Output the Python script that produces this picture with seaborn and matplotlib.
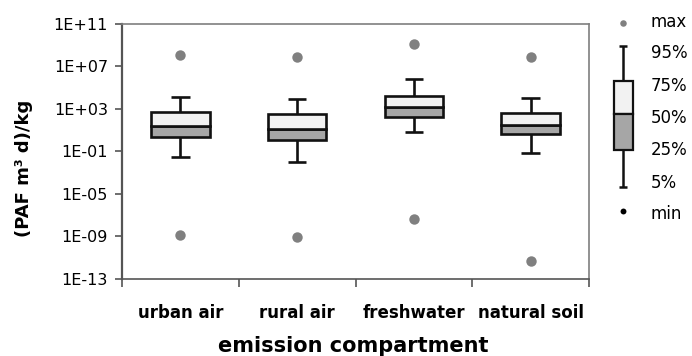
import math

import matplotlib
matplotlib.use("Agg")
import matplotlib.pyplot as plt
import matplotlib.ticker as mticker
import pandas as pd
import seaborn as sns

categories = ["urban air", "rural air", "freshwater", "natural soil"]
p_max = [1.2e8, 8.3e7, 1.4e9, 7.2e7]
p95 = [1.4e4, 8.3e3, 6.0e5, 9.8e3]
q3 = [5.0e2, 3.0e2, 1.6e4, 3.7e2]
median = [24, 14, 1.4e3, 30]
q1 = [2.3, 1.3, 1.8e2, 3.9]
p5 = [3.0e-2, 9.0e-3, 6.0, 7.0e-2]
p_min = [1.3e-9, 8.0e-10, 4.0e-8, 4.4e-12]

legend_labels = ["max", "95%", "75%", "50%", "25%", "5%", "min"]

sns.set_style("white")
plt.rcParams["font.family"] = ["DejaVu Sans"]
plt.rcParams["text.color"] = "black"
plt.rcParams["axes.labelcolor"] = "black"
plt.rcParams["xtick.color"] = "black"
plt.rcParams["ytick.color"] = "black"

fig = plt.figure(figsize=(6.92, 3.56), dpi=100)
ax = fig.add_axes([122 / 692, 1 - 278.7 / 356, (589 - 122) / 692, (278.7 - 24) / 356])

dots = pd.DataFrame({
    "compartment": categories * 2,
    "value": p_max + p_min,
})
sns.stripplot(data=dots, x="compartment", y="value", order=categories,
              jitter=False, color="#808080", size=7.5, linewidth=0, ax=ax, zorder=4)

pos = list(range(len(categories)))
width = 0.5
edge = "#111111"

# whiskers
ax.vlines(pos, p5, q1, color=edge, lw=1.9, zorder=1)
ax.vlines(pos, q3, p95, color=edge, lw=1.9, zorder=1)
ax.hlines(p5, [p - 0.08 for p in pos], [p + 0.08 for p in pos], color=edge, lw=1.9)
ax.hlines(p95, [p - 0.08 for p in pos], [p + 0.08 for p in pos], color=edge, lw=1.9)

# boxes, lower half dark, upper half light
ax.bar(pos, [m - a for m, a in zip(median, q1)], bottom=q1, width=width,
       color="#a6a6a6", edgecolor=edge, linewidth=1.9, zorder=2)
ax.bar(pos, [b - m for b, m in zip(q3, median)], bottom=median, width=width,
       color="#f2f2f2", edgecolor=edge, linewidth=1.9, zorder=2)

ax.set_yscale("log")
ax.set_ylim(1e-13, 1e11)
ax.set_xlim(-0.5, 3.5)
ax.yaxis.set_major_locator(mticker.FixedLocator([10.0 ** e for e in range(-13, 12, 4)]))
ax.yaxis.set_minor_locator(mticker.NullLocator())
ax.yaxis.set_major_formatter(mticker.FuncFormatter(
    lambda v, _: "1E{:+03d}".format(int(round(math.log10(v))))))

ax.set_xticks(pos)
ax.set_xticklabels(categories, fontsize=12, fontweight="bold")
ax.set_xticks([-0.5, 0.5, 1.5, 2.5, 3.5], minor=True)
ax.tick_params(axis="x", which="major", length=0, pad=18)
ax.tick_params(axis="x", which="minor", length=6, width=1.2, direction="out", color="#555555")
ax.tick_params(axis="y", which="major", length=5, width=1.2, direction="out",
               color="#555555", labelsize=11.5, pad=5)
ax.tick_params(left=True, bottom=True, which="both")

for s in ax.spines.values():
    s.set_color("#7f7f7f")
    s.set_linewidth(1.2)
ax.spines["left"].set_color("#555555")
ax.spines["left"].set_linewidth(1.6)
ax.spines["bottom"].set_color("#555555")

ax.set_xlabel("emission compartment", fontsize=15, fontweight="bold")
ax.set_ylabel("(PAF m\u00b3 d)/kg", fontsize=13, fontweight="bold")
ax.xaxis.set_label_coords(0.495, -0.226)
ax.yaxis.set_label_coords(-0.19, 0.435)

# legend drawn in pixel space on the right
lg = fig.add_axes([0, 0, 1, 1], facecolor="none")
lg.set_xlim(0, 692)
lg.set_ylim(356, 0)
lg.axis("off")
cx = 623
lg.scatter([cx], [22.7], s=22, color="#808080", linewidths=0)
lg.vlines(cx, 45.7, 80.7, color=edge, lw=1.8)
lg.vlines(cx, 150, 187.3, color=edge, lw=1.8)
lg.hlines([45.7, 187.3], cx - 4, cx + 4, color=edge, lw=1.8)
lg.add_patch(plt.Rectangle((613.5, 80.7), 19, 33.6, facecolor="#f2f2f2",
                           edgecolor=edge, lw=1.6))
lg.add_patch(plt.Rectangle((613.5, 114.3), 19, 35.7, facecolor="#a6a6a6",
                           edgecolor=edge, lw=1.6))
lg.scatter([cx], [210.7], s=18, color="black", linewidths=0)
label_y = [22, 52.7, 86, 117.7, 150, 182.7, 214]
for txt, y in zip(legend_labels, label_y):
    lg.text(651, y, txt, fontsize=12, va="center", ha="left")

fig.savefig("out.png", dpi=100)
